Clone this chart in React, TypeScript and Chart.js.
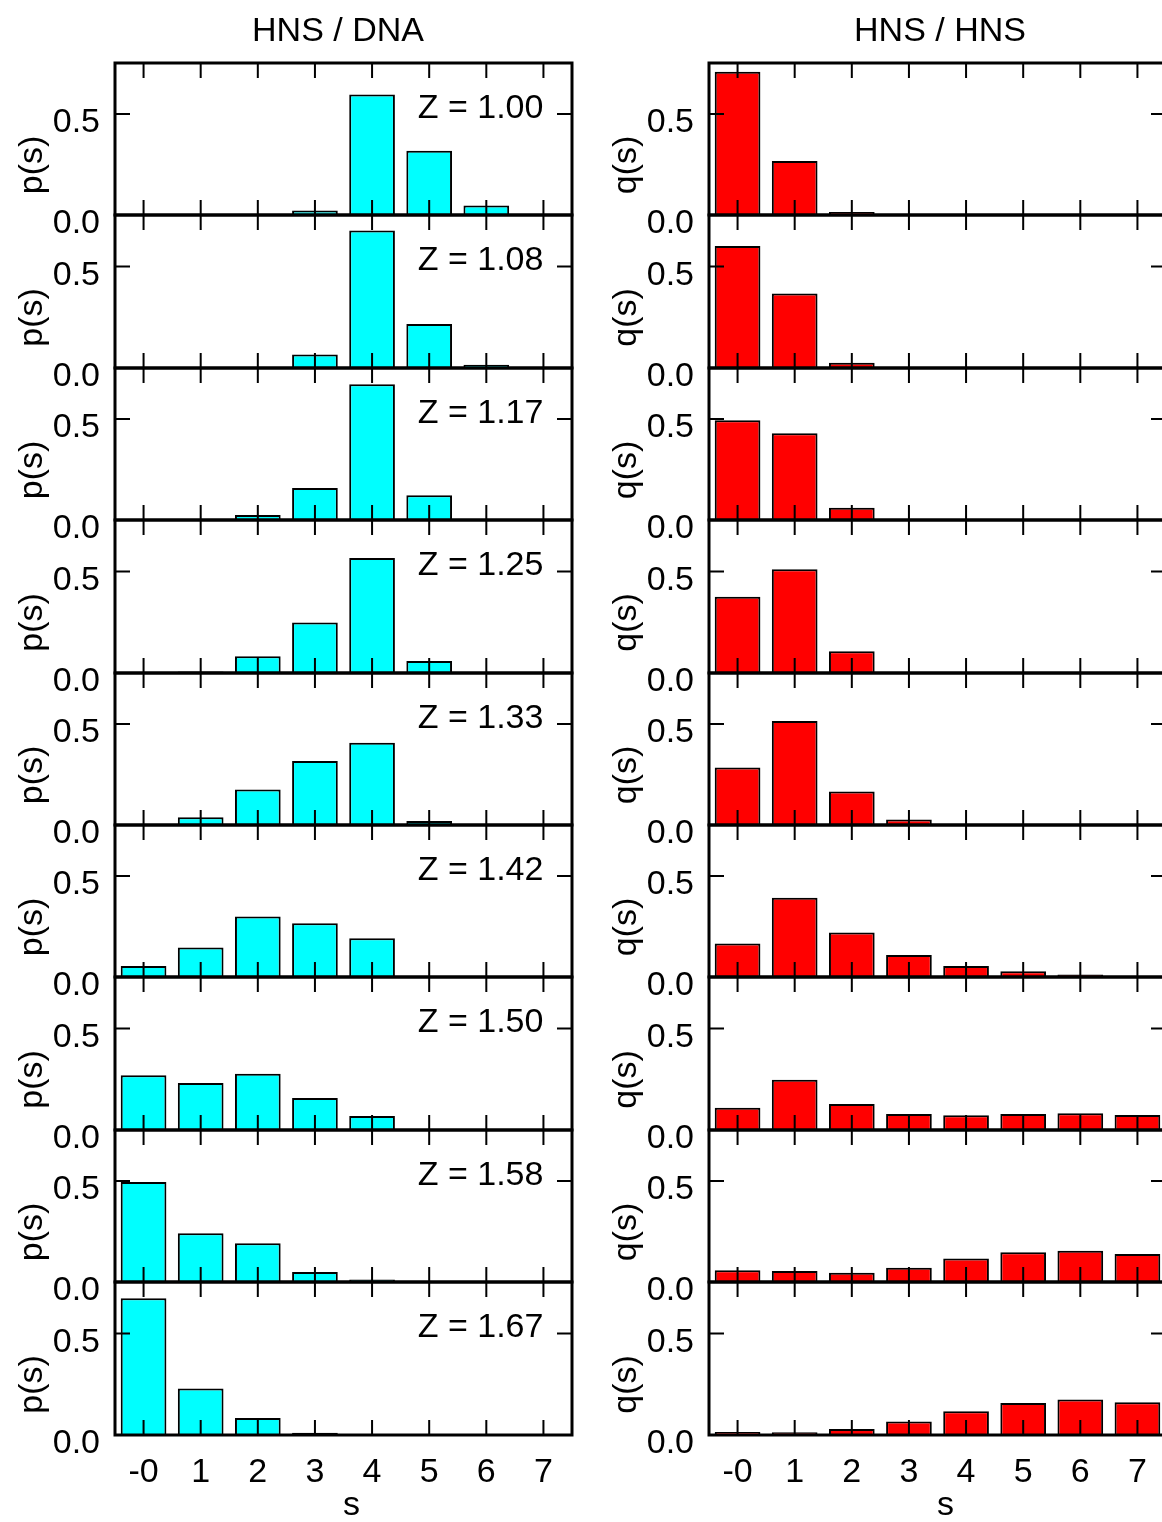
import React, { useEffect, useRef } from 'react';
import { Chart, registerables } from 'chart.js';

Chart.register(...registerables);

// ---------- data ----------
const sLabels = ['-0', '1', '2', '3', '4', '5', '6', '7'];
const zLabels = ['1.00', '1.08', '1.17', '1.25', '1.33', '1.42', '1.50', '1.58', '1.67'];
const yTickValues = [0, 0.5];
const yMax = 0.753;
const columnTitles = ['HNS / DNA', 'HNS / HNS'];
const yTitles = ['p(s)', 'q(s)'];
const xTitle = 's';

// HNS / DNA : p(s) for each Z
const pZ100 = [0, 0, 0, 0.022, 0.597, 0.318, 0.047, 0];
const pZ108 = [0, 0, 0.003, 0.067, 0.677, 0.217, 0.016, 0];
const pZ117 = [0, 0, 0.025, 0.158, 0.672, 0.122, 0.002, 0];
const pZ125 = [0, 0.007, 0.083, 0.248, 0.566, 0.059, 0, 0];
const pZ133 = [0.004, 0.038, 0.176, 0.317, 0.407, 0.02, 0, 0];
const pZ142 = [0.054, 0.146, 0.3, 0.266, 0.192, 0.003, 0, 0];
const pZ150 = [0.27, 0.231, 0.277, 0.157, 0.069, 0, 0, 0];
const pZ158 = [0.496, 0.241, 0.192, 0.05, 0.013, 0, 0, 0];
const pZ167 = [0.673, 0.229, 0.084, 0.011, 0, 0, 0, 0];
const pRows = [pZ100, pZ108, pZ117, pZ125, pZ133, pZ142, pZ150, pZ158, pZ167];

// HNS / HNS : q(s) for each Z
const qZ100 = [0.71, 0.267, 0.015, 0, 0, 0, 0, 0];
const qZ108 = [0.601, 0.367, 0.026, 0, 0, 0, 0, 0];
const qZ117 = [0.494, 0.43, 0.061, 0, 0, 0, 0, 0];
const qZ125 = [0.375, 0.51, 0.107, 0.004, 0, 0, 0, 0];
const qZ133 = [0.285, 0.515, 0.166, 0.027, 0, 0, 0, 0];
const qZ142 = [0.166, 0.393, 0.22, 0.109, 0.055, 0.028, 0.012, 0];
const qZ150 = [0.109, 0.247, 0.128, 0.079, 0.072, 0.079, 0.082, 0.074];
const qZ158 = [0.058, 0.054, 0.046, 0.071, 0.117, 0.147, 0.155, 0.139];
const qZ167 = [0.015, 0.013, 0.03, 0.066, 0.117, 0.158, 0.175, 0.161];
const qRows = [qZ100, qZ108, qZ117, qZ125, qZ133, qZ142, qZ150, qZ158, qZ167];

const barColors = ['#00ffff', '#ff0000'];

// ---------- layout / style ----------
const FONT = '"Liberation Sans", Arial, Helvetica, sans-serif';
const FS = 34;
const GRID_TOP = 63;
const ROW_H = 152.4;
const PAD = 40;
const X_AXIS_H = 90;
const TICK_LEN = 15;
const COLS = [
  { canvasLeft: 0, width: 590, axisW: 115, padRight: 18, titleDX: 223 },
  { canvasLeft: 590, width: 590, axisW: 119, padRight: 14, titleDX: 231 },
];

function makeDecor(col: number, row: number, isTop: boolean, isBottom: boolean) {
  return {
    id: 'panelDecor',
    afterDatasetsDraw(chart: any) {
      const { ctx, chartArea: a } = chart;
      const x = chart.scales.x;
      const y = chart.scales.y;
      ctx.save();
      ctx.strokeStyle = '#000';
      ctx.lineWidth = 2;
      ctx.beginPath();
      for (let i = 0; i < sLabels.length; i++) {
        const px = x.getPixelForTick(i);
        ctx.moveTo(px, a.top);
        ctx.lineTo(px, a.top + TICK_LEN);
        ctx.moveTo(px, a.bottom);
        ctx.lineTo(px, a.bottom - TICK_LEN);
      }
      const py = y.getPixelForValue(0.5);
      ctx.moveTo(a.left, py);
      ctx.lineTo(a.left + TICK_LEN, py);
      ctx.moveTo(a.right, py);
      ctx.lineTo(a.right - TICK_LEN, py);
      ctx.stroke();
      ctx.lineWidth = 3;
      ctx.strokeRect(a.left, a.top, a.right - a.left, a.bottom - a.top);

      ctx.fillStyle = '#000';
      ctx.font = `${FS}px ${FONT}`;
      if (col === 0) {
        ctx.textAlign = 'right';
        ctx.textBaseline = 'alphabetic';
        ctx.fillText('Z = ' + zLabels[row], x.getPixelForTick(sLabels.length - 1), py + 4);
      }
      ctx.save();
      ctx.translate(a.left - 82, (a.top + a.bottom) / 2 + 26);
      ctx.rotate(-Math.PI / 2);
      ctx.textAlign = 'center';
      ctx.textBaseline = 'middle';
      ctx.fillText(yTitles[col], 0, 0);
      ctx.restore();
      if (isTop) {
        ctx.textAlign = 'center';
        ctx.textBaseline = 'alphabetic';
        ctx.fillText(columnTitles[col], a.left + COLS[col].titleDX, 41);
      }
      if (isBottom) {
        ctx.textAlign = 'center';
        ctx.textBaseline = 'alphabetic';
        ctx.fillText(xTitle, (a.left + a.right) / 2 + 8, a.bottom + 80);
      }
      ctx.restore();
    },
  };
}

function Panel({ col, row }: { col: number; row: number }) {
  const ref = useRef<HTMLCanvasElement>(null);
  const c = COLS[col];
  const top = Math.round(GRID_TOP + row * ROW_H);
  const bottom = Math.round(GRID_TOP + (row + 1) * ROW_H);
  const isTop = row === 0;
  const isBottom = row === zLabels.length - 1;
  const padTop = isTop ? top : PAD;
  const padBottom = isBottom ? X_AXIS_H : PAD;
  const height = padTop + (bottom - top) + padBottom;
  const canvasTop = top - padTop;

  useEffect(() => {
    const values = (col === 0 ? pRows : qRows)[row];
    const chart = new Chart(ref.current as HTMLCanvasElement, {
      type: 'bar',
      data: {
        labels: sLabels,
        datasets: [
          {
            data: values,
            backgroundColor: barColors[col],
            borderColor: '#000',
            borderWidth: 2,
            barPercentage: 0.8,
            categoryPercentage: 1.0,
          },
        ],
      },
      options: {
        responsive: false,
        animation: false,
        devicePixelRatio: 1,
        layout: { padding: { top: padTop, bottom: isBottom ? 0 : padBottom, left: 0, right: c.padRight } },
        plugins: { legend: { display: false }, tooltip: { enabled: false }, title: { display: false } },
        scales: {
          x: {
            type: 'category',
            offset: true,
            display: isBottom,
            grid: { display: false, drawTicks: false },
            border: { display: false },
            ticks: { font: { family: FONT, size: FS }, color: '#000', padding: 17, maxRotation: 0, autoSkip: false },
            afterFit: (s: any) => {
              s.height = isBottom ? X_AXIS_H : 0;
            },
          },
          y: {
            type: 'linear',
            min: 0,
            max: yMax,
            grid: { display: false, drawTicks: false },
            border: { display: false },
            afterBuildTicks: (axis: any) => {
              axis.ticks = yTickValues.map((v) => ({ value: v }));
            },
            ticks: {
              font: { family: FONT, size: FS },
              color: '#000',
              padding: 15,
              labelOffset: 9,
              callback: (v: any) => Number(v).toFixed(1),
            },
            afterFit: (s: any) => {
              s.width = c.axisW;
            },
          },
        },
      } as any,
      plugins: [makeDecor(col, row, isTop, isBottom)],
    });
    return () => chart.destroy();
  }, []);

  return (
    <canvas
      ref={ref}
      width={c.width}
      height={height}
      style={{ position: 'absolute', left: c.canvasLeft, top: canvasTop, width: c.width, height }}
    />
  );
}

export default function App() {
  const rows = zLabels.map((_, i) => i);
  return (
    <div
      style={{
        position: 'fixed',
        left: 0,
        top: 0,
        width: 1162,
        height: 1522,
        overflow: 'hidden',
        background: '#fff',
      }}
    >
      {rows.map((r) => (
        <Panel key={'p' + r} col={0} row={r} />
      ))}
      {rows.map((r) => (
        <Panel key={'q' + r} col={1} row={r} />
      ))}
    </div>
  );
}
